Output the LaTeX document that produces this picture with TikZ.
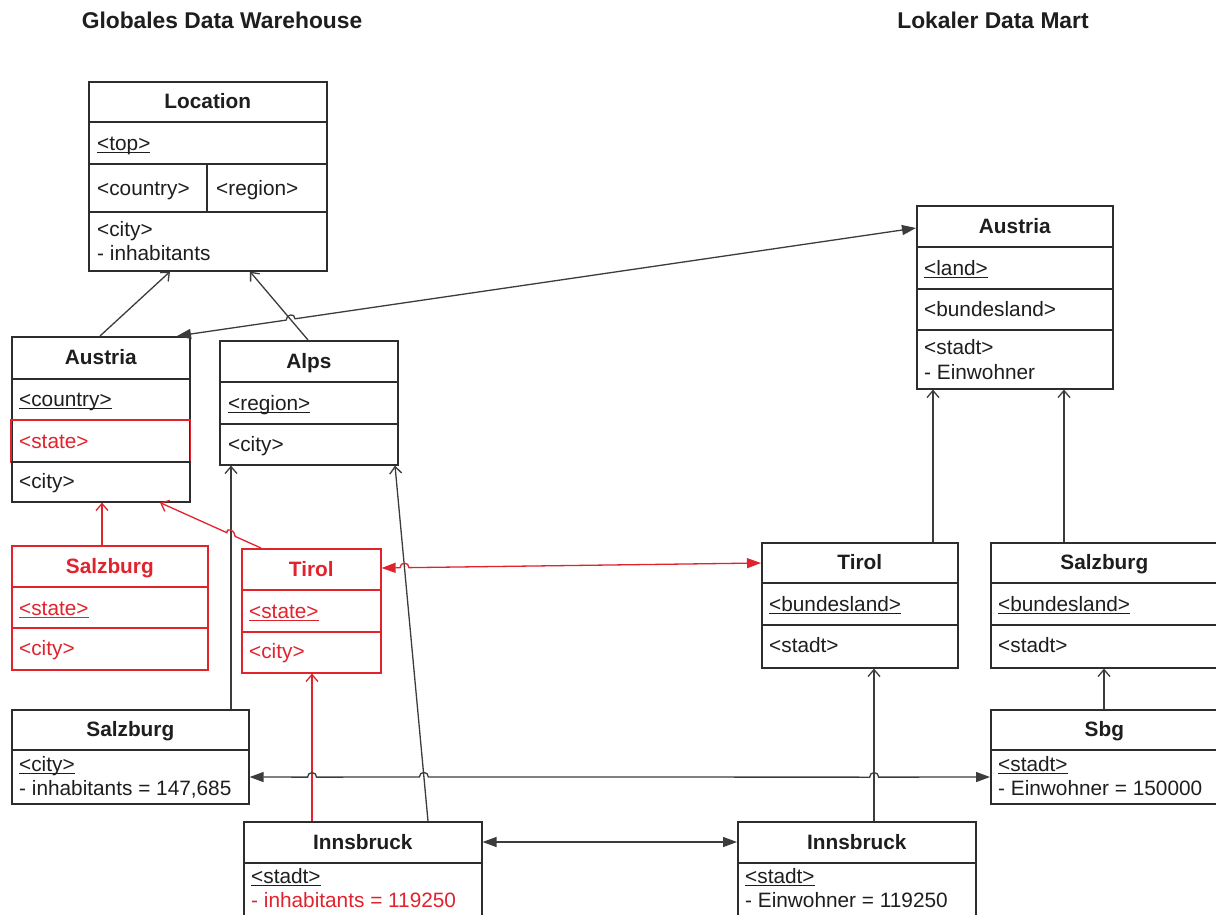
\documentclass[tikz,border=0pt]{standalone}
\usepackage{fontspec}
\setmainfont{Liberation Sans}
\usetikzlibrary{arrows.meta,calc}

\definecolor{ink}{RGB}{30,30,30}
\definecolor{edge}{RGB}{45,45,45}
\definecolor{wire}{RGB}{60,60,60}
\definecolor{hot}{RGB}{225,35,45}

% underline that sits just below the baseline
\newcommand\uln[1]{\setbox0\hbox{#1}\rlap{\rule[-2.6pt]{\wd0}{1pt}}\box0}
\newcount\fieldno
% horizontal compartment divider inside a class box
\newcommand\rowline[3][edge]{\draw[#1,line width=1.6pt] ([shift={(0,#3)}]#2.north west) -- ([shift={(0,#3)}]#2.north east);}
% left-aligned compartment entry
\newcommand\field[4][]{\global\advance\fieldno by 1
  \node[tx,#1] (fld\the\fieldno) at ([shift={(#3)}]#2.north west) {#4};}
% bold class name in the header compartment
\newcommand\head[4][]{\node[hd,#1] (#2-name) at ([shift={(0,#3)}]#2.north) {#4};}
% line hop: leave the line before the crossing, arc over it, come back
\newcommand\hop[3]{-- ($(#1)!4.5pt!(#2)$) .. controls +(0,-6) and +(0,-6) .. ($(#1)!4.5pt!(#3)$)}

\begin{document}
\begin{tikzpicture}[x=1pt,y=-1pt,
  font=\fontsize{20.8}{24}\selectfont,
  umlbox/.style={draw=edge,line width=1.6pt,anchor=north west,inner sep=0pt,fill=white},
  hd/.style={font=\fontsize{20.8}{24}\selectfont\bfseries,text=ink,text height=17pt,text depth=2pt,inner sep=0pt},
  tx/.style={anchor=west,text=ink,text height=17pt,text depth=2pt,inner sep=0pt},
  ttl/.style={font=\fontsize{22.8}{26}\selectfont\bfseries,text=ink,inner sep=0pt},
  gen/.style={draw=wire,line width=1.3pt,-{Straight Barb[length=7pt,width=12pt]}},
  assoc/.style={draw=wire,line width=1.3pt,{Triangle[length=14pt,width=10pt]}-{Triangle[length=14pt,width=10pt]}},
  hotline/.style={draw=hot}]

\fill[white] (0,0) rectangle (1216,914);
\useasboundingbox (0,0) rectangle (1216,914);
\clip (0,0) rectangle (1216,914);

% ---------- titles ----------
\node[ttl] (tdw) at (222,20) {Globales Data Warehouse};
\node[ttl] (tdm) at (993,20) {Lokaler Data Mart};

% ---------- global warehouse ----------
\node[umlbox,minimum width=238pt,minimum height=189pt] (locg) at (88,81) {};
\head{locg}{20}{Location}
\rowline{locg}{41}\rowline{locg}{83}\rowline{locg}{131}
\draw[edge,line width=1.6pt] ([shift={(119,83)}]locg.north west) -- ([shift={(119,131)}]locg.north west);
\field{locg}{9,62}{\uln{<top>}}
\field{locg}{9,107}{<country>}
\field{locg}{128,107}{<region>}
\field{locg}{9,148}{<city>}
\field{locg}{9,172}{- inhabitants}

\node[umlbox,minimum width=178pt,minimum height=165pt] (ausg) at (11,336) {};
\head{ausg}{21}{Austria}
\rowline{ausg}{43}
\draw[hot,line width=1.6pt] ([shift={(0,84)}]ausg.north west) rectangle ([shift={(0,126)}]ausg.north east);
\rowline{ausg}{126}
\field{ausg}{8,63}{\uln{<country>}}
\field[text=hot]{ausg}{8,105}{<state>}
\field{ausg}{8,145}{<city>}

\node[umlbox,minimum width=178pt,minimum height=124pt] (alps) at (219,340) {};
\head{alps}{21}{Alps}
\rowline{alps}{42}\rowline{alps}{84}
\field{alps}{9,63}{\uln{<region>}}
\field{alps}{9,104}{<city>}

\node[umlbox,draw=hot,minimum width=196pt,minimum height=124pt] (salr) at (11,545) {};
\head[text=hot]{salr}{21}{Salzburg}
\rowline[hot]{salr}{42}\rowline[hot]{salr}{83}
\field[text=hot]{salr}{8,63}{\uln{<state>}}
\field[text=hot]{salr}{8,103}{<city>}

\node[umlbox,draw=hot,minimum width=139pt,minimum height=124pt] (tirr) at (241,548) {};
\head[text=hot]{tirr}{21}{Tirol}
\rowline[hot]{tirr}{42}\rowline[hot]{tirr}{84}
\field[text=hot]{tirr}{8,63}{\uln{<state>}}
\field[text=hot]{tirr}{8,103}{<city>}

\node[umlbox,minimum width=237pt,minimum height=94pt] (salc) at (11,709) {};
\head{salc}{20}{Salzburg}
\rowline{salc}{41}
\field{salc}{8,55}{\uln{<city>}}
\field{salc}{8,79}{- inhabitants = 147,685}

\node[umlbox,minimum width=238pt,minimum height=110pt] (inng) at (243,821) {};
\head{inng}{21}{Innsbruck}
\rowline{inng}{42}
\field{inng}{8,55}{\uln{<stadt>}}
\field[text=hot]{inng}{8,79}{- inhabitants = 119250}

% ---------- local data mart ----------
\node[umlbox,minimum width=196pt,minimum height=183pt] (ausr) at (916,205) {};
\head{ausr}{21}{Austria}
\rowline{ausr}{42}\rowline{ausr}{84}\rowline{ausr}{125}
\field{ausr}{8,63}{\uln{<land>}}
\field{ausr}{8,104}{<bundesland>}
\field{ausr}{8,142}{<stadt>}
\field{ausr}{8,167}{- Einwohner}

\node[umlbox,minimum width=196pt,minimum height=125pt] (tirl) at (761,542) {};
\head{tirl}{20}{Tirol}
\rowline{tirl}{41}\rowline{tirl}{83}
\field{tirl}{8,62}{\uln{<bundesland>}}
\field{tirl}{8,103}{<stadt>}

\node[umlbox,minimum width=227pt,minimum height=125pt] (salzl) at (990,542) {};
\head{salzl}{20}{Salzburg}
\rowline{salzl}{41}\rowline{salzl}{83}
\field{salzl}{8,62}{\uln{<bundesland>}}
\field{salzl}{8,103}{<stadt>}

\node[umlbox,minimum width=227pt,minimum height=94pt] (sbg) at (990,709) {};
\head{sbg}{20}{Sbg}
\rowline{sbg}{41}
\field{sbg}{8,55}{\uln{<stadt>}}
\field{sbg}{8,79}{- Einwohner = 150000}

\node[umlbox,minimum width=238pt,minimum height=110pt] (innl) at (737,821) {};
\head{innl}{21}{Innsbruck}
\rowline{innl}{42}
\field{innl}{8,55}{\uln{<stadt>}}
\field{innl}{8,79}{- Einwohner = 119250}

% ---------- connector end points ----------
\coordinate (c1a) at ([shift={(89,0)}]ausg.north west);
\coordinate (c1b) at ([shift={(82,0)}]locg.south west);
\coordinate (c2a) at ([shift={(89,0)}]alps.north west);
\coordinate (c2b) at ([shift={(162,0)}]locg.south west);
\coordinate (c3a) at ([shift={(166,0)}]ausg.north west);
\coordinate (c3b) at ([shift={(0,23)}]ausr.north west);
\coordinate (c4a) at ([shift={(91,0)}]salr.north west);
\coordinate (c4b) at ([shift={(91,0)}]ausg.south west);
\coordinate (c5a) at ([shift={(20,0)}]tirr.north west);
\coordinate (c5b) at ([shift={(149,0)}]ausg.south west);
\coordinate (c6a) at ([shift={(220,0)}]salc.north west);
\coordinate (c6b) at ([shift={(12,0)}]alps.south west);
\coordinate (c7a) at ([shift={(185,0)}]inng.north west);
\coordinate (c7b) at ([shift={(176,0)}]alps.south west);
\coordinate (c8a) at ([shift={(69,0)}]inng.north west);
\coordinate (c8b) at ([shift={(71,0)}]tirr.south west);
\coordinate (c9a) at ([shift={(0,20)}]tirr.north east);
\coordinate (c9b) at ([shift={(0,21)}]tirl.north west);
\coordinate (c10a) at ([shift={(0,68)}]salc.north east);
\coordinate (c10b) at ([shift={(0,68)}]sbg.north west);
\coordinate (c11a) at ([shift={(0,21)}]inng.north east);
\coordinate (c11b) at ([shift={(0,21)}]innl.north west);
\coordinate (c12a) at ([shift={(137,0)}]innl.north west);
\coordinate (c12b) at ([shift={(113,0)}]tirl.south west);
\coordinate (c13a) at ([shift={(114,0)}]sbg.north west);
\coordinate (c13b) at ([shift={(114,0)}]salzl.south west);
\coordinate (c14a) at ([shift={(172,0)}]tirl.north west);
\coordinate (c14b) at ([shift={(17,0)}]ausr.south west);
\coordinate (c15a) at ([shift={(74,0)}]salzl.north west);
\coordinate (c15b) at ([shift={(148,0)}]ausr.south west);

% crossings that get a line hop
\coordinate (x3) at (intersection of c3a--c3b and c2a--c2b);
\coordinate (x5) at (intersection of c5a--c5b and c6a--c6b);
\coordinate (x9) at (intersection of c9a--c9b and c7a--c7b);
\coordinate (x10a) at (intersection of c10a--c10b and c8a--c8b);
\coordinate (x10b) at (intersection of c10a--c10b and c7a--c7b);
\coordinate (x10c) at (intersection of c10a--c10b and c12a--c12b);

% ---------- generalisations ----------
\draw[gen] (c1a) -- (c1b);
\draw[gen] (c2a) -- (c2b);
\draw[gen] (c6a) -- (c6b);
\draw[gen] (c7a) -- (c7b);
\draw[gen] (c12a) -- (c12b);
\draw[gen] (c13a) -- (c13b);
\draw[gen] (c14a) -- (c14b);
\draw[gen] (c15a) -- (c15b);
\draw[gen,hotline] (c4a) -- (c4b);
\draw[gen,hotline] (c8a) -- (c8b);
\draw[gen,hotline] (c5a) \hop{x5}{c5a}{c5b} -- (c5b);

% ---------- mappings ----------
\draw[assoc] (c3a) \hop{x3}{c3a}{c3b} -- (c3b);
\draw[assoc,hotline] (c9a) \hop{x9}{c9a}{c9b} -- (c9b);
\draw[assoc] (c10a) \hop{x10a}{c10a}{c10b} \hop{x10b}{c10a}{c10b} \hop{x10c}{c10a}{c10b} -- (c10b);
\draw[assoc] (c11a) -- (c11b);

\end{tikzpicture}
\end{document}
